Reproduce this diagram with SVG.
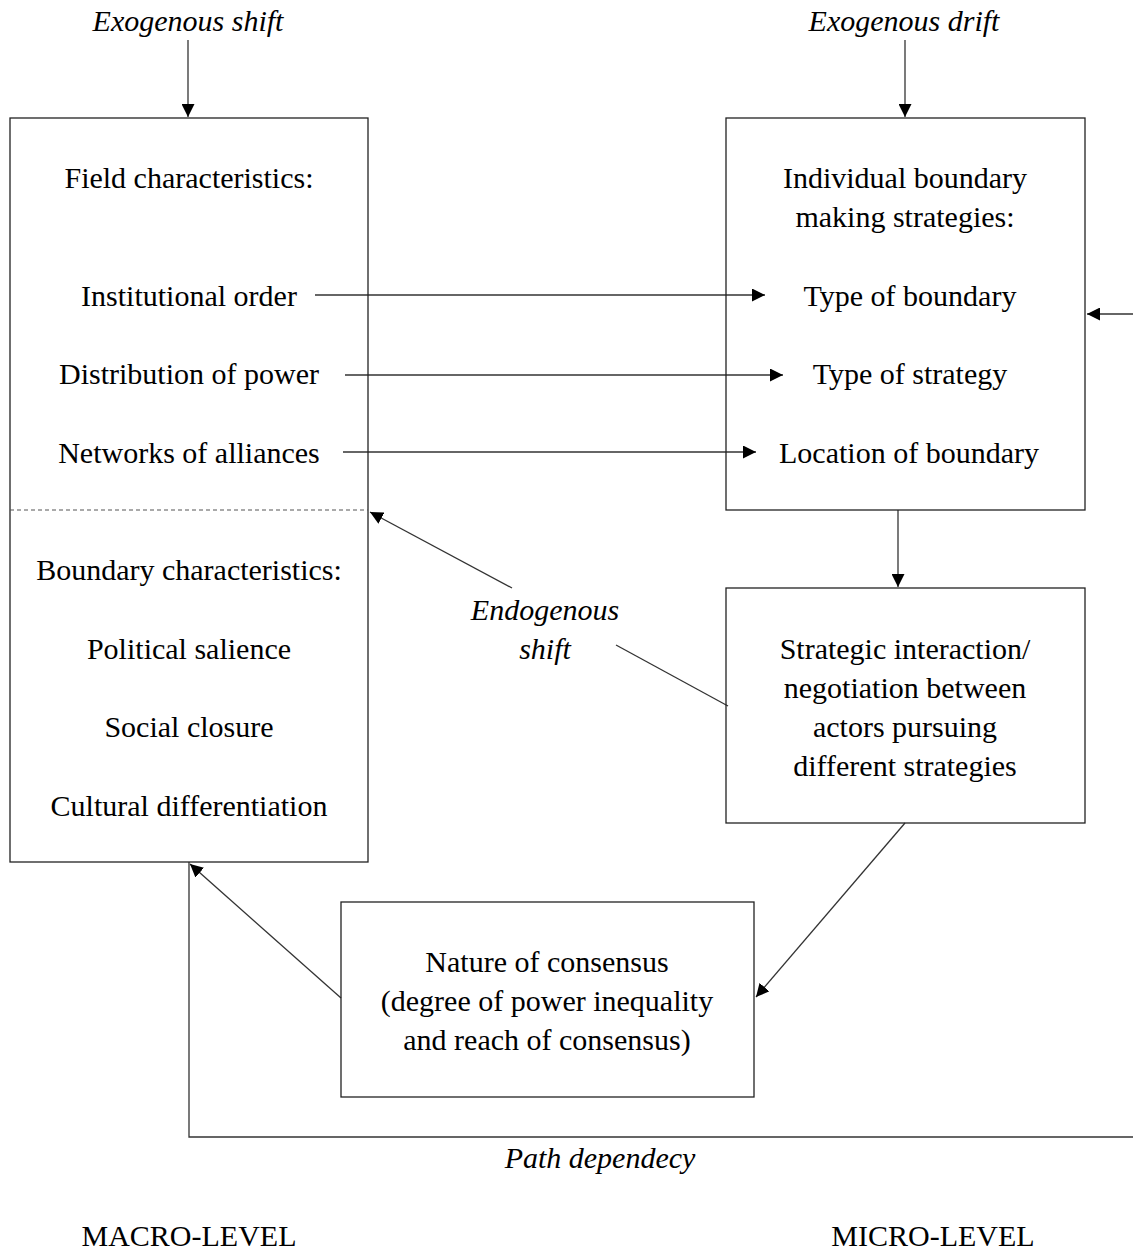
<svg xmlns="http://www.w3.org/2000/svg" width="1133" height="1252" viewBox="0 0 1133 1252">
<style>
text{font-family:"Liberation Serif","Times New Roman",serif;font-size:30px;fill:#000;text-anchor:middle}
.it{font-style:italic}
.box{fill:none;stroke:#222;stroke-width:1.3}
.ln{fill:none;stroke:#333;stroke-width:1.3}
</style>
<defs>
<marker id="ah" viewBox="0 0 10 10" refX="10" refY="5" markerWidth="13" markerHeight="13" markerUnits="userSpaceOnUse" orient="auto">
<path d="M0,0 L10,5 L0,10 z" fill="#000"/>
</marker>
</defs>
<rect width="1133" height="1252" fill="#fff"/>
<g id="connectors">
<line class="ln" x1="188" y1="40" x2="188" y2="117" marker-end="url(#ah)"/>
<line class="ln" x1="905" y1="40" x2="905" y2="117" marker-end="url(#ah)"/>
<line class="ln" x1="315" y1="295" x2="765" y2="295" marker-end="url(#ah)"/>
<line class="ln" x1="345" y1="375" x2="783" y2="375" marker-end="url(#ah)"/>
<line class="ln" x1="343" y1="452" x2="756" y2="452" marker-end="url(#ah)"/>
<line class="ln" x1="898" y1="510" x2="898" y2="587" marker-end="url(#ah)"/>
<line class="ln" x1="512" y1="588" x2="370" y2="512" marker-end="url(#ah)"/>
<line class="ln" x1="616" y1="645" x2="728" y2="706"/>
<line class="ln" x1="905" y1="823" x2="756" y2="997" marker-end="url(#ah)"/>
<line class="ln" x1="341" y1="998" x2="190" y2="864" marker-end="url(#ah)"/>
<polyline class="ln" points="189,862 189,1137 1133,1137"/>
<line class="ln" x1="1133" y1="314" x2="1087" y2="314" marker-end="url(#ah)"/>
</g>
<g id="exo-shift"><text class="it" x="188" y="31">Exogenous shift</text></g>
<g id="exo-drift"><text class="it" x="904" y="31">Exogenous drift</text></g>
<g id="macro-box">
<rect class="box" x="10" y="118" width="358" height="744"/>
<line x1="10" y1="510" x2="368" y2="510" stroke="#555" stroke-width="1.2" stroke-dasharray="4,3"/>
<text x="189" y="188">Field characteristics:</text>
<text x="189" y="306">Institutional order</text>
<text x="189" y="384">Distribution of power</text>
<text x="189" y="463">Networks of alliances</text>
<text x="189" y="580">Boundary characteristics:</text>
<text x="189" y="659">Political salience</text>
<text x="189" y="737">Social closure</text>
<text x="189" y="816">Cultural differentiation</text>
</g>
<g id="micro-box">
<rect class="box" x="726" y="118" width="359" height="392"/>
<text x="905" y="188">Individual boundary</text>
<text x="905" y="227">making strategies:</text>
<text x="910" y="306">Type of boundary</text>
<text x="910" y="384">Type of strategy</text>
<text x="909" y="463">Location of boundary</text>
</g>
<g id="interaction-box">
<rect class="box" x="726" y="588" width="359" height="235"/>
<text x="905" y="659">Strategic interaction/</text>
<text x="905" y="698">negotiation between</text>
<text x="905" y="737">actors pursuing</text>
<text x="905" y="776">different strategies</text>
</g>
<g id="consensus-box">
<rect class="box" x="341" y="902" width="413" height="195"/>
<text x="547" y="972">Nature of consensus</text>
<text x="547" y="1011">(degree of power inequality</text>
<text x="547" y="1050">and reach of consensus)</text>
</g>
<g id="endogenous"><text class="it" x="545" y="620">Endogenous</text><text class="it" x="545" y="659">shift</text></g>
<g id="path-dep"><text class="it" x="600" y="1168">Path dependecy</text></g>
<g id="levels">
<text x="189" y="1246">MACRO-LEVEL</text>
<text x="933" y="1246">MICRO-LEVEL</text>
</g>
</svg>
